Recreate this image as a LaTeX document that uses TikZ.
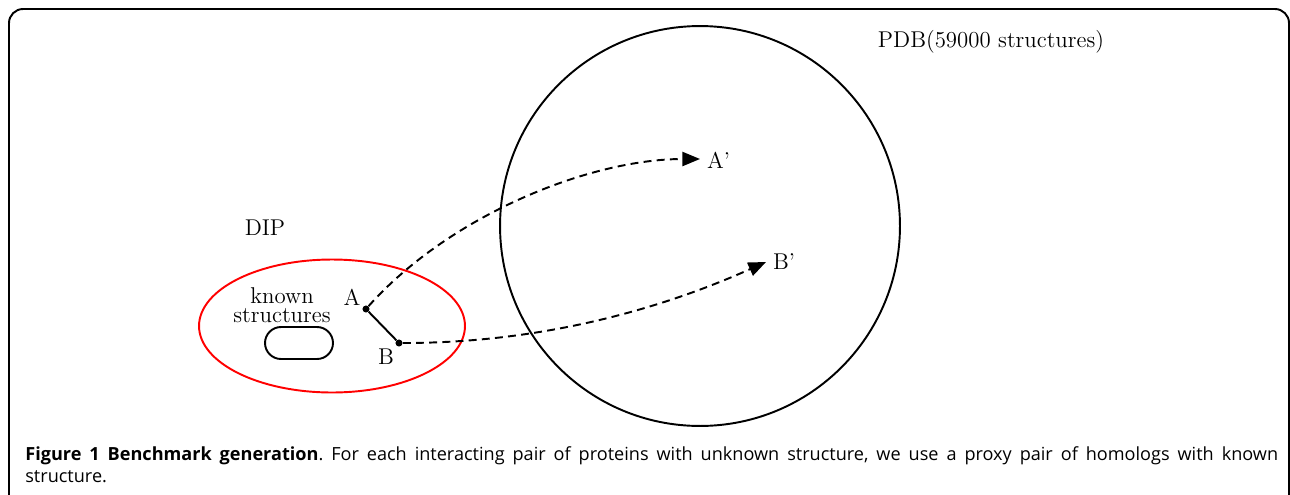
\documentclass[tikz,border=0pt]{standalone}
\usepackage{fontspec}
\newfontfamily\captionfont{Open Sans}
\usetikzlibrary{arrows.meta, positioning, shapes.geometric}
\frenchspacing

\begin{document}
\begin{tikzpicture}[
    x=0.02cm, y=-0.02cm,
    every node/.style={font=\fontsize{13}{15}\selectfont},
    region/.style={draw, ellipse, line width=1.1pt, inner sep=0pt},
    protein/.style={circle, fill, inner sep=0pt, minimum size=4pt},
    homolog/.style={dashed, dash pattern=on 4.5pt off 3pt, line width=1.1pt, -{Triangle[length=10pt, width=8pt]}},
    lbl/.style={inner sep=1pt}
]
    \useasboundingbox (0,0) rectangle (1290,494);
    % Frame
    \draw[line width=1.1pt, rounded corners=8pt] (9,530) -- (9,9) -- (1289,9) -- (1289,530);

    % Databases
    \node[region, circle, minimum size=8cm] (pdb) at (700,226) {};
    \node[region, draw=red, minimum width=5.32cm, minimum height=2.66cm] (dip) at (332,326) {};
    \node[draw, line width=1.1pt, rounded corners=0.32cm, minimum width=1.36cm, minimum height=0.64cm] (known) at (299,343) {};
    \node[lbl] (pdblabel) at (991,42) {PDB(59000 structures)};
    \node[lbl] (diplabel) at (265,228) {DIP};
    \node[lbl, align=center, font=\fontsize{13}{10.5}\selectfont] (knownlabel) at (282,305) {known\\structures};

    % Interacting pair
    \node[protein] (A) at (366,309) {};
    \node[protein] (B) at (399,343) {};
    \node[lbl] (alabel) at (352,297) {A};
    \node[lbl] (blabel) at (386,357) {B};
    \draw[line width=1.1pt] (A) -- (B);

    % Homologs
    \coordinate (atip) at (700,159);
    \coordinate (btip) at (766,262);
    \node[lbl, anchor=west] (aprime) at (705,160) {A'};
    \node[lbl, anchor=west] (bprime) at (771,262) {B'};
    \draw[homolog] (A) .. controls (450,215) and (590,159) .. (atip);
    \draw[homolog] (B) .. controls (550,343) and (670,305) .. (btip);

    % Caption
    \node[anchor=base west, inner sep=0pt, text width=25.06cm, align=justify,
          font=\captionfont\fontsize{10.3}{13}\selectfont] (caption) at (25,460)
        {\textbf{Figure 1 Benchmark generation}. For each interacting pair of proteins with unknown structure, we use a proxy pair of homologs with known\linebreak structure.};
\end{tikzpicture}
\end{document}
